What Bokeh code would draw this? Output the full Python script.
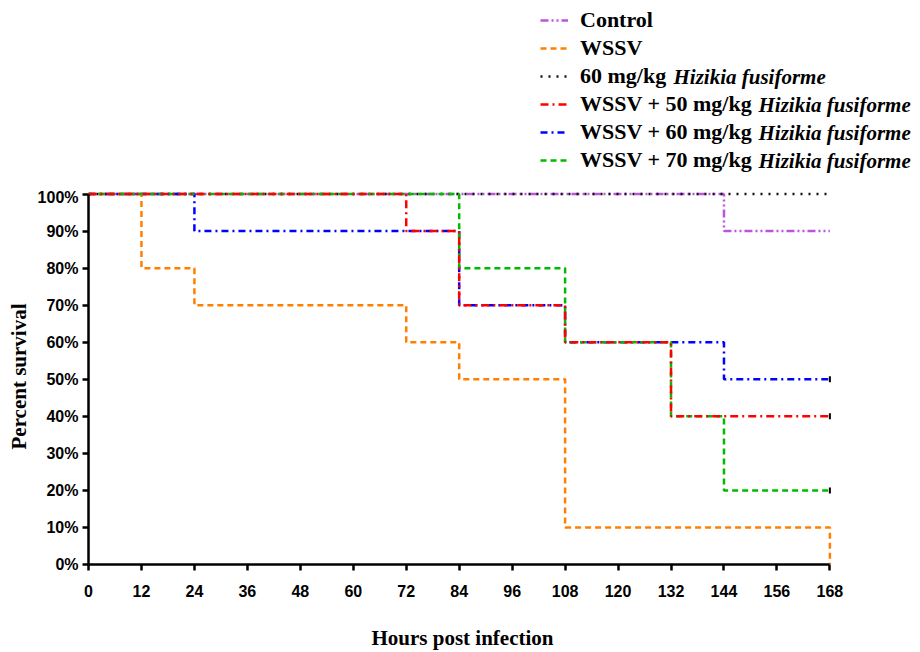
from bokeh.plotting import figure
from bokeh.layouts import column
from bokeh.models import Range1d, FixedTicker, PrintfTickFormatter, Legend, LegendItem, Label
from bokeh.embed import file_html
from bokeh.resources import INLINE

# ---- data (hours post infection, percent survival) ----
control_t = [0, 144, 168]
control_s = [100, 90, 90]
wssv_t = [0, 12, 24, 72, 84, 108, 168]
wssv_s = [100, 80, 70, 60, 50, 10, 0]
hf60_t = [0, 168]
hf60_s = [100, 100]
w50_t = [0, 72, 84, 108, 132, 168]
w50_s = [100, 90, 70, 60, 40, 40]
w60_t = [0, 24, 84, 108, 144, 168]
w60_s = [100, 90, 70, 60, 50, 50]
w70_t = [0, 84, 108, 132, 144, 168]
w70_s = [100, 80, 60, 40, 20, 20]
censor_t = [168, 168, 168]
censor_s = [50, 40, 20]

x_ticks = list(range(0, 169, 12))
y_ticks = list(range(0, 101, 10))

legend_main = ["Control", "WSSV", "60 mg/kg", "WSSV + 50 mg/kg", "WSSV + 60 mg/kg", "WSSV + 70 mg/kg"]
legend_italic = ["", "", "Hizikia fusiforme", "Hizikia fusiforme", "Hizikia fusiforme", "Hizikia fusiforme"]

styles = [
    dict(line_color="#BB55DD", line_dash="8 3 2 3 2 3"),
    dict(line_color="#FF8000", line_dash="6 4"),
    dict(line_color="#111111", line_dash="2 6"),
    dict(line_color="#FF0000", line_dash="8 4 2 4"),
    dict(line_color="#0000FF", line_dash="7 4 2 4"),
    dict(line_color="#00BB00", line_dash="6 4"),
]
lw = 2.5

series = [(control_t, control_s), (wssv_t, wssv_s), (hf60_t, hf60_s),
          (w50_t, w50_s), (w60_t, w60_s), (w70_t, w70_s)]

# ---------------- main plot ----------------
p = figure(width=920, height=464, output_backend="svg", toolbar_location=None,
           x_range=Range1d(0, 169.5), y_range=Range1d(0, 101.5),
           min_border_left=88, min_border_right=84, min_border_top=0, min_border_bottom=87)
p.outline_line_color = None
p.xgrid.visible = False
p.ygrid.visible = False

draw_order = [0, 2, 4, 1, 5, 3]
for i in draw_order:
    t, s = series[i]
    p.step(t, s, mode="after", line_width=lw, **styles[i])
p.scatter(censor_t, censor_s, marker="dash", angle=1.5708, size=6, line_color="black", line_width=2)

for ax in (p.xaxis[0], p.yaxis[0]):
    ax.axis_line_width = 2.5
    ax.axis_line_color = "black"
    ax.major_tick_line_width = 2.5
    ax.major_tick_in = 0
    ax.major_tick_out = 6
    ax.minor_tick_line_color = None
    ax.major_label_text_font = "Liberation Sans"
    ax.major_label_text_font_style = "bold"
    ax.major_label_text_font_size = "16px"
    ax.major_label_text_color = "black"
    ax.axis_label_text_font = "Liberation Serif"
    ax.axis_label_text_font_style = "bold"
    ax.axis_label_text_font_size = "21px"
    ax.axis_label_text_color = "black"

p.xaxis[0].ticker = FixedTicker(ticks=x_ticks)
p.xaxis[0].bounds = (0, 168)
p.xaxis[0].major_label_standoff = 14
p.xaxis[0].axis_label = "Hours post infection"
p.xaxis[0].axis_label_standoff = 26

p.yaxis[0].ticker = FixedTicker(ticks=y_ticks)
p.yaxis[0].formatter = PrintfTickFormatter(format="%d%%")
p.yaxis[0].bounds = (0, 100)
p.yaxis[0].major_label_standoff = 4
p.yaxis[0].axis_label = "Percent survival"
p.yaxis[0].axis_label_standoff = 4

# ---------------- legend strip above ----------------
lg = figure(width=920, height=188, output_backend="svg", toolbar_location=None,
            x_range=Range1d(0, 1), y_range=Range1d(0, 1),
            x_axis_location=None, y_axis_location=None,
            min_border_left=0, min_border_right=0, min_border_top=0, min_border_bottom=0)
try:
    lg.frame_align = False
    p.frame_align = False
except Exception:
    pass
lg.outline_line_color = None
lg.xgrid.visible = False
lg.ygrid.visible = False

items = []
for lab, st, (t, s) in zip(legend_main, styles, series):
    # single-point line: draws nothing in the strip, only supplies the legend sample
    r = lg.line(t[:1], s[:1], line_width=lw, **st)
    items.append(LegendItem(label=lab, renderers=[r]))
legend = Legend(items=items, location=(540, 15), padding=0, margin=0,
                border_line_color=None, background_fill_alpha=0,
                glyph_width=28, glyph_height=26, label_height=26, spacing=2,
                label_standoff=12, label_text_font="Liberation Serif",
                label_text_font_style="bold", label_text_font_size="22px",
                label_text_color="black")
lg.add_layout(legend, "center")

italic_x = [0, 0, 673, 758, 758, 758]
italic_y = [0, 0, 112, 84, 56, 28]
for txt, lx, ly in zip(legend_italic, italic_x, italic_y):
    if txt:
        lg.add_layout(Label(x=lx, y=ly, x_units="screen", y_units="screen", text=txt,
                            text_font="Liberation Serif", text_font_style="bold italic",
                            text_font_size="21px", text_baseline="middle", text_color="black"))

layout = column(lg, p, spacing=0)
open("out.html", "w").write(file_html(layout, INLINE))
